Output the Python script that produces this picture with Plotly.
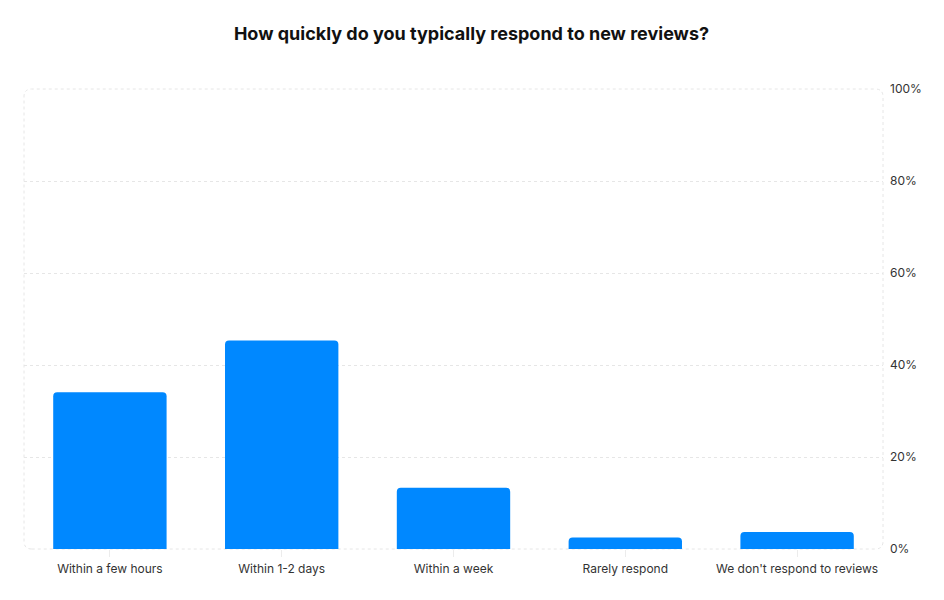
import plotly.graph_objects as go

# Survey answers
categories = ['Within a few hours', 'Within 1-2 days', 'Within a week',
              'Rarely respond', "We don't respond to reviews"]
shares = [34.1, 45.3, 13.3, 2.5, 3.7]

y_ticks = [0, 20, 40, 60, 80, 100]
y_tick_labels = ['0%', '20%', '40%', '60%', '80%', '100%']

fig = go.Figure(go.Bar(
    x=categories,
    y=shares,
    width=0.66,
    marker=dict(color='#0088FF', cornerradius=4, line=dict(width=0)),
    hovertemplate='%{x}: %{y:.1f}%<extra></extra>'
))

# Dashed rounded frame around the plotting area
rx, ry = 0.009, 0.017
frame = (f'M {rx},0 L {1 - rx},0 Q 1,0 1,{ry} L 1,{1 - ry} Q 1,1 {1 - rx},1 '
         f'L {rx},1 Q 0,1 0,{1 - ry} L 0,{ry} Q 0,0 {rx},0 Z')
fig.add_shape(type='path', path=frame, xref='x domain', yref='y domain',
              line=dict(color='#e6e6e6', width=1, dash='dot'), layer='below')

fig.update_layout(
    width=944, height=600,
    paper_bgcolor='white', plot_bgcolor='white',
    margin=dict(l=16, r=69, t=81, b=59),
    font=dict(family='Inter, sans-serif', size=12, color='#333333'),
    title=dict(text='<b>How quickly do you typically respond to new reviews?</b>',
               x=0.491, xanchor='center', y=0.958, yanchor='middle',
               font=dict(size=18, color='#111111')),
    showlegend=False,
    bargap=0.34,
)
fig.update_xaxes(showgrid=False, showline=False, zeroline=False,
                 ticks='outside', ticklen=7, tickcolor='#ececec',
                 ticklabelstandoff=2,
                 tickfont=dict(size=12, color='#333333'))
fig.update_yaxes(side='right', range=[0, 100], tickvals=y_ticks, ticktext=y_tick_labels,
                 showgrid=True, gridcolor='#e6e6e6', griddash='dot', gridwidth=1,
                 zeroline=False, showline=False, ticks='', ticklabelstandoff=6,
                 tickfont=dict(size=12, color='#333333'))

fig.write_html('out.html')
